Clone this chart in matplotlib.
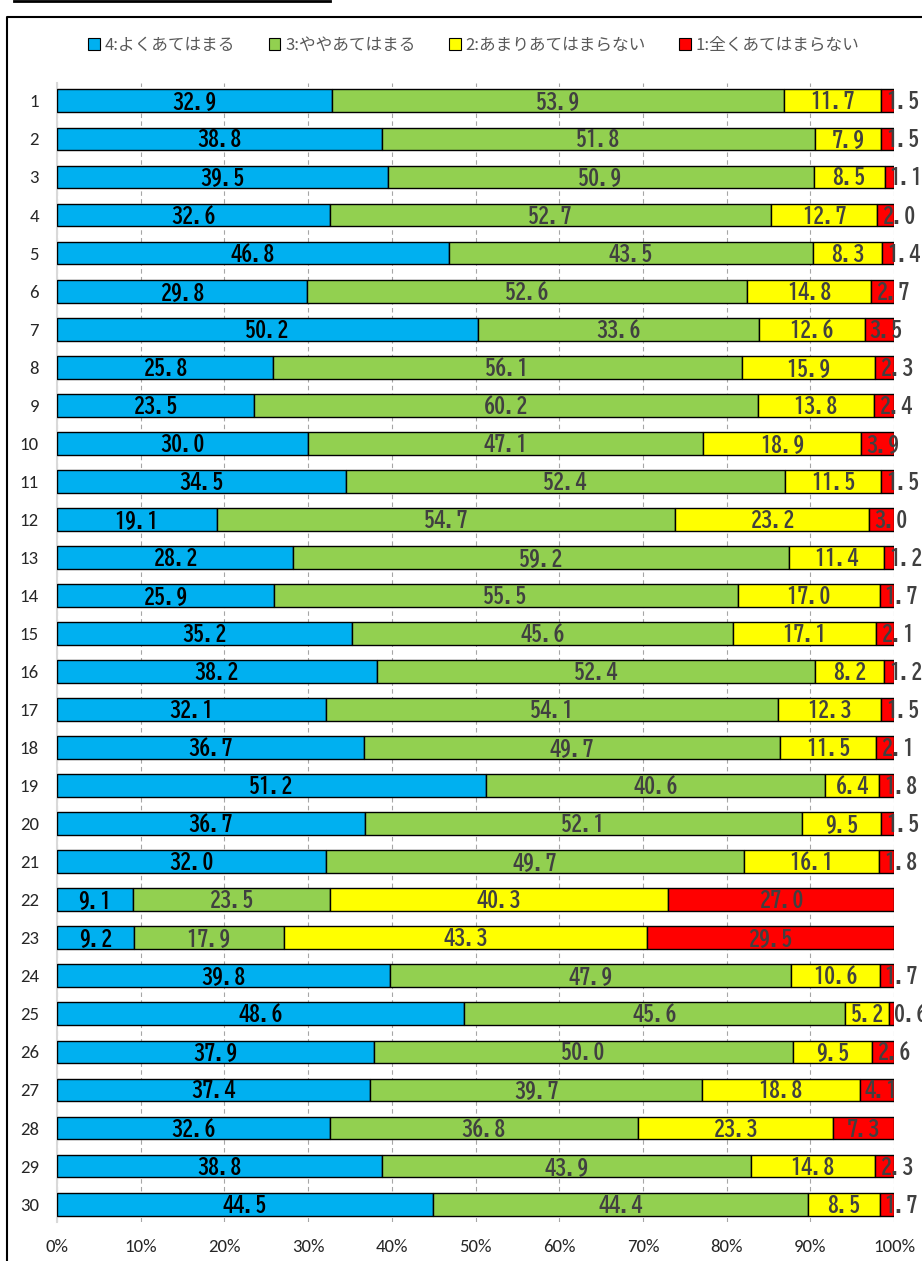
import matplotlib
matplotlib.use("Agg")
import matplotlib.pyplot as plt
from matplotlib.lines import Line2D
from matplotlib.patches import Patch
from matplotlib.ticker import FuncFormatter
import numpy as np

categories = [str(i) for i in range(1, 31)]
series_names = ["4:よくあてはまる", "3:ややあてはまる", "2:あまりあてはまらない", "1:全くあてはまらない"]
s4 = [32.9, 38.8, 39.5, 32.6, 46.8, 29.8, 50.2, 25.8, 23.5, 30.0, 34.5, 19.1, 28.2, 25.9, 35.2,
      38.2, 32.1, 36.7, 51.2, 36.7, 32.0, 9.1, 9.2, 39.8, 48.6, 37.9, 37.4, 32.6, 38.8, 44.5]
s3 = [53.9, 51.8, 50.9, 52.7, 43.5, 52.6, 33.6, 56.1, 60.2, 47.1, 52.4, 54.7, 59.2, 55.5, 45.6,
      52.4, 54.1, 49.7, 40.6, 52.1, 49.7, 23.5, 17.9, 47.9, 45.6, 50.0, 39.7, 36.8, 43.9, 44.4]
s2 = [11.7, 7.9, 8.5, 12.7, 8.3, 14.8, 12.6, 15.9, 13.8, 18.9, 11.5, 23.2, 11.4, 17.0, 17.1,
      8.2, 12.3, 11.5, 6.4, 9.5, 16.1, 40.3, 43.3, 10.6, 5.2, 9.5, 18.8, 23.3, 14.8, 8.5]
s1 = [1.5, 1.5, 1.1, 2.0, 1.4, 2.7, 3.5, 2.3, 2.4, 3.9, 1.5, 3.0, 1.2, 1.7, 2.1,
      1.2, 1.5, 2.1, 1.8, 1.5, 1.8, 27.0, 29.5, 1.7, 0.6, 2.6, 4.1, 7.3, 2.3, 1.7]
xtick_values = [0, 10, 20, 30, 40, 50, 60, 70, 80, 90, 100]

colors = ["#00B0F0", "#92D050", "#FFFF00", "#FF0000"]
label_colors = ["#000000", "#404040", "#404040", "#404040"]
label_font = ['BIZ UDGothic', 'Noto Sans CJK JP', 'DejaVu Sans']
tick_font = ['Carlito', 'Liberation Sans', 'DejaVu Sans']

plt.rcParams['font.family'] = ['Noto Sans CJK JP', 'DejaVu Sans']

W, H = 922, 1261
fig = plt.figure(figsize=(W / 100, H / 100), dpi=100)

ax = fig.add_axes([57 / W, 1 - 1222 / H, (894 - 57) / W, (1222 - 83) / H])

data = np.array([s4, s3, s2, s1], dtype=float)
totals = data.sum(axis=0)
pct = data / totals * 100
y = np.arange(len(categories))
left = np.zeros(len(categories))
labels = []
for k in range(4):
    ax.barh(y, pct[k], left=left, height=0.6, color=colors[k], edgecolor="black",
            linewidth=1.0, zorder=3)
    for i in range(len(categories)):
        t = ax.text(left[i] + pct[k][i] / 2, y[i], f"{data[k][i]:.1f}", ha="center", va="center",
                    fontsize=16, fontweight="bold", color=label_colors[k],
                    family=label_font, zorder=4, clip_on=False)
        labels.append((t, left[i], pct[k][i]))
    left += pct[k]

ax.set_xlim(0, 100)
ax.set_ylim(len(categories) - 0.53, -0.47)
ax.set_yticks(y)
ax.set_yticklabels(categories, family=tick_font, fontsize=13.5, color="#262626")
ax.set_xticks(xtick_values)
ax.xaxis.set_major_formatter(FuncFormatter(lambda v, p: f"{int(v)}%"))
for t in ax.get_xticklabels():
    t.set_family(tick_font)
    t.set_fontsize(13.5)
    t.set_color("#262626")
ax.tick_params(axis='y', length=0, pad=13)
ax.tick_params(axis='x', length=0, pad=12)
ax.grid(axis='x', color="#A6A6A6", linestyle=(0, (4, 3)), linewidth=0.8, zorder=0)
for s in ["top", "right", "bottom"]:
    ax.spines[s].set_visible(False)
ax.spines["left"].set_color("#D9D9D9")
ax.spines["left"].set_linewidth(1.5)

# labels wider than their segment start near the segment's left edge (as Excel places them)
fig.canvas.draw()
renderer = fig.canvas.get_renderer()
px_per_unit = ax.transData.transform((1, 0))[0] - ax.transData.transform((0, 0))[0]
pad_units = 5 / px_per_unit
for t, seg_left, seg_w in labels:
    w_units = t.get_window_extent(renderer).width / px_per_unit
    if w_units + 2 * pad_units > seg_w:
        t.set_ha("left")
        t.set_x(seg_left + pad_units)

handles = [Patch(facecolor=c, edgecolor="black", linewidth=0.8) for c in colors]
fig.legend(handles, series_names, loc="center", bbox_to_anchor=(474 / W, 1 - 45 / H), ncol=4,
           frameon=False, fontsize=12, labelcolor="#595959", handlelength=0.7, handleheight=0.7,
           handletextpad=0.3, columnspacing=2.0)

# frame and top line
fig.add_artist(Line2D([7 / W, 7 / W, 1.0], [0, 1 - 17 / H, 1 - 17 / H], color="black",
                      linewidth=1.5, transform=fig.transFigure))
fig.add_artist(Line2D([14 / W, 330 / W], [1 - 1 / H, 1 - 1 / H], color="black",
                      linewidth=2, transform=fig.transFigure))

fig.savefig("out.png", dpi=100)
